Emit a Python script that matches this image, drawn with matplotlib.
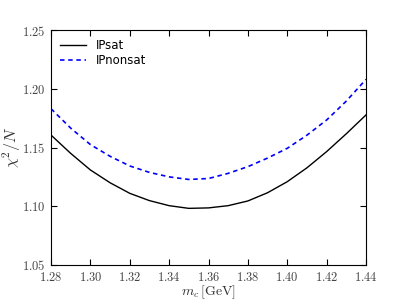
import matplotlib
matplotlib.use('Agg')
import matplotlib.pyplot as plt

plt.rcParams['mathtext.fontset'] = 'cm'

# masa del quark charm [GeV]
mc = [1.28, 1.29, 1.30, 1.31, 1.32, 1.33, 1.34, 1.35, 1.36,
      1.37, 1.38, 1.39, 1.40, 1.41, 1.42, 1.43, 1.44]
chi2_ipsat = [1.1606, 1.1450, 1.1309, 1.1200, 1.1110, 1.1048, 1.1005, 1.0982, 1.0986,
              1.1005, 1.1045, 1.1115, 1.1209, 1.1327, 1.1465, 1.1617, 1.1777]
chi2_ipnonsat = [1.1830, 1.1665, 1.1525, 1.1425, 1.1343, 1.1288, 1.1250, 1.1228, 1.1236,
                 1.1280, 1.1337, 1.1410, 1.1493, 1.1605, 1.1734, 1.1895, 1.2080]
xticks = [1.28, 1.30, 1.32, 1.34, 1.36, 1.38, 1.40, 1.42, 1.44]
yticks = [1.05, 1.10, 1.15, 1.20, 1.25]

fig = plt.figure(figsize=(4.07, 3.05), dpi=100)
ax = fig.add_axes([51 / 407, 1 - 265 / 305, 315 / 407, 235 / 305])

ax.plot(mc, chi2_ipsat, color='black', lw=1.0, label='IPsat')
ax.plot(mc, chi2_ipnonsat, color='blue', lw=1.2, dashes=(2.7, 2.2), label='IPnonsat')

ax.set_xlim(1.28, 1.44)
ax.set_ylim(1.05, 1.25)
ax.set_xticks(xticks)
ax.set_yticks(yticks)
ax.set_xticklabels([r'$%.2f$' % t for t in xticks])
ax.set_yticklabels([r'$%.2f$' % t for t in yticks])
ax.tick_params(direction='in', top=True, right=True, length=4, labelsize=9,
               pad=4, labelcolor='#444444')
ax.set_xlabel(r'$m_c\,[\mathrm{GeV}]$', fontsize=10, color='#333333')
ax.xaxis.set_label_coords(0.5, -0.077)
ax.set_ylabel(r'$\chi^2/N$', fontsize=11.5, color='#333333')
ax.yaxis.set_label_coords(-0.09, 0.5)

ax.legend(loc='upper left', frameon=False, fontsize=8.5, handlelength=2.2,
          handletextpad=0.8, borderaxespad=0.4, labelspacing=0.15)

plt.savefig('out.png', dpi=100)
plt.close()
